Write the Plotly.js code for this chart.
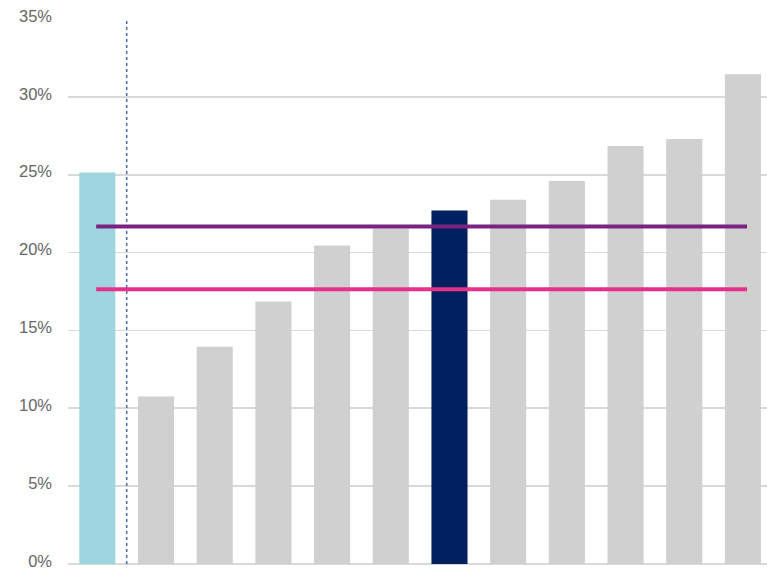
<!DOCTYPE html>
<html>
<head>
<meta charset="utf-8">
<script src="https://cdn.plot.ly/plotly-3.0.1.min.js"></script>
<style>html,body{margin:0;padding:0;background:#fff;}#chart{width:767px;height:569px;}</style>
</head>
<body>
<div id="chart"></div>
<script>
// Data (percent)
const categories = [0, 1, 2, 3, 4, 5, 6, 7, 8, 9, 10, 11];
const values = [25.15, 10.75, 13.95, 16.85, 20.45, 21.55, 22.7, 23.4, 24.6, 26.85, 27.3, 31.45];
const barColors = ['#9dd6e0', '#d0d0d0', '#d0d0d0', '#d0d0d0', '#d0d0d0', '#d0d0d0',
                   '#002060', '#d0d0d0', '#d0d0d0', '#d0d0d0', '#d0d0d0', '#d0d0d0'];
const purpleLevel = 21.68;
const pinkLevel = 17.64;
const yTicks = [0, 5, 10, 15, 20, 25, 30, 35];
const yTickLabels = ['0%', '5%', '10%', '15%', '20%', '25%', '30%', '35%'];

const traces = [{
  type: 'bar',
  x: categories,
  y: values,
  width: 0.615,
  marker: {color: barColors, line: {width: 0}},
  hoverinfo: 'y'
}];

const layout = {
  width: 767,
  height: 569,
  margin: {l: 68, r: 0, t: 19, b: 5, pad: 0},
  paper_bgcolor: '#ffffff',
  plot_bgcolor: '#ffffff',
  showlegend: false,
  font: {family: 'Liberation Sans, Arial, sans-serif', size: 16.5, color: '#666666'},
  xaxis: {
    range: [-0.5, 11.41],
    showticklabels: false,
    showgrid: false,
    zeroline: false,
    ticks: ''
  },
  yaxis: {
    range: [0, 35],
    tickvals: yTicks,
    ticktext: yTickLabels,
    showgrid: true,
    gridcolor: '#d9d9d9',
    gridwidth: 1.6,
    zeroline: true,
    zerolinecolor: '#d9d9d9',
    zerolinewidth: 1.6,
    ticks: '',
    ticklabelstandoff: 15,
    ticklabelshift: -3,
    ticklabeloverflow: 'allow',
    tickfont: {size: 16.5, color: '#666666'}
  },
  shapes: [
    {type: 'line', xref: 'x', yref: 'y', x0: 0.5, x1: 0.5, y0: 0, y1: 35,
     line: {color: '#4a6aa8', width: 1.5, dash: 'dot'}},
    {type: 'line', xref: 'x', yref: 'y', x0: -0.02, x1: 11.07, y0: purpleLevel, y1: purpleLevel,
     line: {color: '#7b2382', width: 4}},
    {type: 'line', xref: 'x', yref: 'y', x0: -0.02, x1: 11.07, y0: pinkLevel, y1: pinkLevel,
     line: {color: '#e8308a', width: 4}}
  ]
};

Plotly.newPlot('chart', traces, layout, {displayModeBar: false, staticPlot: true});
</script>
</body>
</html>
